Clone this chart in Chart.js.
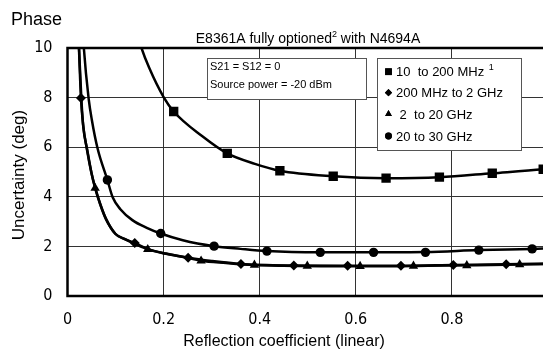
<!DOCTYPE html>
<html>
<head>
<meta charset="utf-8">
<script src="https://cdn.jsdelivr.net/npm/chart.js@4.4.1/dist/chart.umd.min.js"></script>
<style>
  html, body { margin: 0; padding: 0; background: #fff; overflow: hidden; }
  #wrap { width: 552px; height: 352px; }
</style>
</head>
<body>
<div id="wrap"><canvas id="phaseChart" width="552" height="352"></canvas></div>
<script>
// axis ticks
const xTicks = [0, 0.2, 0.4, 0.6, 0.8, 1];
const yTicks = [0, 2, 4, 6, 8, 10];

// series names (legend) and their markers
const seriesLabels = ['10  to 200 MHz', '200 MHz to 2 GHz', ' 2  to 20 GHz', '20 to 30 GHz'];
const seriesNotes = ['1', '', '', ''];
const seriesMarkers = ['rect', 'rectRot', 'triangle', 'circle'];
const markerRadius = [6.6, 5, 5.4, 4.7];

const infoLines = ['S21 = S12 = 0', 'Source power = -20 dBm'];

// 10 to 200 MHz
const sqCurveX = [0.145, 0.154, 0.17, 0.2, 0.221, 0.28, 0.3325, 0.39, 0.442, 0.553, 0.663, 0.774, 0.884, 0.99, 1.0];
const sqCurveY = [10.6, 10, 9.2, 8.02, 7.44, 6.45, 5.75, 5.33, 5.05, 4.83, 4.75, 4.79, 4.95, 5.11, 5.13];
const sqMarkX = [0.221, 0.3325, 0.442, 0.553, 0.663, 0.774, 0.884, 0.99];
const sqMarkY = [7.44, 5.75, 5.05, 4.83, 4.75, 4.79, 4.95, 5.11];

// 200 MHz to 2 GHz
const dmCurveX = [0.0215, 0.0238, 0.028, 0.0325, 0.040, 0.050, 0.0575, 0.068, 0.08, 0.1, 0.12, 0.14, 0.167, 0.205, 0.251, 0.3, 0.361, 0.471, 0.583, 0.694, 0.803, 0.913, 1.0];
const dmCurveY = [11, 10, 7.98, 6.9, 5.96, 4.95, 4.38, 3.72, 3.12, 2.5, 2.29, 2.14, 1.9, 1.71, 1.54, 1.41, 1.29, 1.23, 1.22, 1.22, 1.25, 1.28, 1.31];
const dmMarkX = [0.028, 0.140, 0.251, 0.361, 0.471, 0.583, 0.694, 0.803, 0.913];
const dmMarkY = [7.98, 2.14, 1.54, 1.29, 1.23, 1.22, 1.22, 1.25, 1.28];

// 2 to 20 GHz
const trCurveX = [0.0218, 0.024, 0.029, 0.033, 0.041, 0.050, 0.0575, 0.068, 0.08, 0.1, 0.12, 0.14, 0.167, 0.205, 0.25, 0.278, 0.33, 0.389, 0.45, 0.55, 0.65, 0.75, 0.85, 0.941, 1.0];
const trCurveY = [11, 10, 7.9, 6.8, 5.9, 4.95, 4.35, 3.7, 3.1, 2.5, 2.28, 2.1, 1.88, 1.7, 1.54, 1.42, 1.33, 1.25, 1.22, 1.2, 1.2, 1.22, 1.24, 1.27, 1.29];
const trMarkX = [0.0575, 0.167, 0.278, 0.389, 0.499, 0.609, 0.72, 0.831, 0.941];
const trMarkY = [4.35, 1.88, 1.42, 1.25, 1.21, 1.2, 1.21, 1.23, 1.27];

// 20 to 30 GHz
const ciCurveX = [0.031, 0.034, 0.044, 0.0506, 0.0625, 0.083, 0.094, 0.11, 0.135, 0.165, 0.194, 0.24, 0.305, 0.36, 0.415, 0.526, 0.637, 0.745, 0.856, 0.967, 1.0];
const ciCurveY = [11, 10, 7.96, 7.11, 5.96, 4.68, 3.98, 3.5, 3.06, 2.75, 2.52, 2.25, 2.01, 1.9, 1.81, 1.76, 1.76, 1.77, 1.85, 1.90, 1.92];
const ciMarkX = [0.083, 0.194, 0.305, 0.415, 0.526, 0.637, 0.745, 0.856, 0.967];
const ciMarkY = [4.68, 2.52, 2.01, 1.81, 1.76, 1.76, 1.76, 1.85, 1.90];

const curves = [[sqCurveX, sqCurveY], [dmCurveX, dmCurveY], [trCurveX, trCurveY], [ciCurveX, ciCurveY]];
const marks = [[sqMarkX, sqMarkY], [dmMarkX, dmMarkY], [trMarkX, trMarkY], [ciMarkX, ciMarkY]];

const pts = (xs, ys) => xs.map((x, i) => ({x: x, y: ys[i]}));

const datasets = [];
marks.forEach((m, i) => {
    datasets.push({
        type: 'scatter',
        label: seriesLabels[i],
        data: pts(m[0], m[1]),
        pointStyle: seriesMarkers[i],
        pointRadius: markerRadius[i],
        backgroundColor: '#000',
        borderColor: '#000',
        borderWidth: 0,
        order: 0
    });
});
curves.forEach((c, i) => {
    datasets.push({
        type: 'line',
        label: seriesLabels[i] + ' curve',
        data: pts(c[0], c[1]),
        borderColor: '#000',
        borderWidth: 2.5,
        pointRadius: 0,
        cubicInterpolationMode: 'monotone',
        fill: false,
        order: 1
    });
});

const SANS = '"Liberation Sans", Arial, sans-serif';
const NARROW = '"Liberation Sans Narrow", "DejaVu Sans Condensed", "Liberation Sans", Arial, sans-serif';

// boxes, frame and texts
const decor = {
    id: 'decor',
    afterDatasetsDraw(chart) {
        const ctx = chart.ctx;
        const a = chart.chartArea;
        ctx.save();
        // info box
        ctx.fillStyle = '#fff';
        ctx.strokeStyle = '#555';
        ctx.lineWidth = 1;
        ctx.fillRect(207.5, 58.5, 159, 41);
        ctx.strokeRect(207.5, 58.5, 159, 41);
        ctx.fillStyle = '#000';
        ctx.font = '11px ' + SANS;
        ctx.textBaseline = 'alphabetic';
        ctx.fillText(infoLines[0], 210, 69.7);
        ctx.fillText(infoLines[1], 210, 87.7);

        // legend box
        ctx.fillStyle = '#fff';
        ctx.fillRect(377.5, 58.5, 144, 92);
        ctx.strokeRect(377.5, 58.5, 144, 92);
        const rows = [71.7, 92.7, 114, 136];
        seriesLabels.forEach((lab, i) => {
            const y = rows[i];
            ctx.fillStyle = '#000';
            Chart.helpers.drawPoint(ctx, {
                pointStyle: seriesMarkers[i],
                radius: markerRadius[i] * 0.72,
                rotation: 0,
                borderWidth: 0
            }, 388.5, y);
            ctx.fill();
            ctx.font = '13px ' + SANS;
            ctx.fillText(lab, 396, y + 4.7);
            if (seriesNotes[i]) {
                const w = ctx.measureText(lab + ' ').width;
                ctx.font = '9px ' + SANS;
                ctx.fillText(seriesNotes[i], 396 + w + 1, y - 1.5);
            }
        });

        // plot frame
        ctx.strokeStyle = '#000';
        ctx.lineWidth = 2.5;
        ctx.strokeRect(a.left, a.top, a.right - a.left, a.bottom - a.top);
        ctx.restore();
    },
    afterDraw(chart) {
        const ctx = chart.ctx;
        ctx.save();
        ctx.fillStyle = '#000';
        ctx.textBaseline = 'alphabetic';
        ctx.font = '18px ' + SANS;
        ctx.fillText('Phase', 11, 25);

        // chart title with superscript
        const t1 = 'E8361A fully optioned', sup = '2', t2 = ' with N4694A';
        ctx.font = '14px ' + SANS;
        const w1 = ctx.measureText(t1).width, w3 = ctx.measureText(t2).width;
        ctx.font = '9px ' + SANS;
        const w2 = ctx.measureText(sup).width;
        let x = 308 - (w1 + w2 + w3) / 2;
        ctx.font = '14px ' + SANS;
        ctx.fillText(t1, x, 42.7);
        ctx.font = '9px ' + SANS;
        ctx.fillText(sup, x + w1, 37);
        ctx.font = '14px ' + SANS;
        ctx.fillText(t2, x + w1 + w2, 42.7);

        // axis titles
        ctx.font = '16px ' + SANS;
        ctx.textAlign = 'center';
        ctx.fillText('Reflection coefficient (linear)', 284, 346);
        ctx.translate(24, 175);
        ctx.rotate(-Math.PI / 2);
        ctx.font = '17px ' + SANS;
        ctx.fillText('Uncertainty (deg)', 0, 0);
        ctx.restore();
    }
};

const ctx = document.getElementById('phaseChart').getContext('2d');
const chart = new Chart(ctx, {
    type: 'scatter',
    data: { datasets: datasets },
    options: {
        responsive: false,
        animation: false,
        events: [],
        layout: { autoPadding: false, padding: { top: 48, right: 4, bottom: 0, left: 0 } },
        plugins: {
            legend: { display: false },
            tooltip: { enabled: false }
        },
        scales: {
            x: {
                type: 'linear',
                min: 0, max: 1,
                afterBuildTicks: (s) => { s.ticks = xTicks.map(v => ({value: v})); },
                afterFit: (s) => { s.height = 56; s.paddingLeft = 0; s.paddingRight = 0; },
                ticks: {
                    padding: 14,
                    color: '#000',
                    font: { family: NARROW, size: 16 },
                    maxRotation: 0,
                    callback: (v) => String(v)
                },
                grid: { color: '#333', lineWidth: 1, drawTicks: false },
                border: { display: false }
            },
            y: {
                type: 'linear',
                min: 0, max: 10,
                afterBuildTicks: (s) => { s.ticks = yTicks.map(v => ({value: v})); },
                afterFit: (s) => { s.width = 67.5; },
                ticks: {
                    padding: 15,
                    color: '#000',
                    font: { family: NARROW, size: 16 },
                    callback: (v) => String(v)
                },
                grid: { color: '#333', lineWidth: 1, drawTicks: false },
                border: { display: false }
            }
        }
    },
    plugins: [decor]
});
</script>
</body>
</html>
